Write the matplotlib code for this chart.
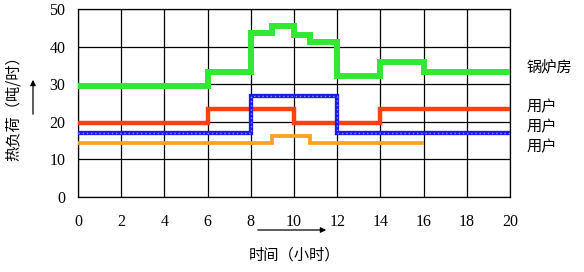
import matplotlib
matplotlib.use("Agg")
import matplotlib.pyplot as plt

# step edges (hours) and load values (t/h)
boiler_t = [0, 6, 8, 9, 10, 10.75, 12, 14, 16, 20]
boiler_v = [29.5, 33.2, 43.7, 45.6, 43.1, 41.2, 32.2, 35.9, 33.3]

user_red_t = [0, 6, 10, 14, 20]
user_red_v = [19.6, 23.3, 19.6, 23.3]

user_blue_t = [0, 8, 12, 20]
user_blue_v = [17.1, 26.9, 17.1]

user_orange_t = [0, 9, 10.75, 16]
user_orange_v = [14.3, 16.2, 14.3]

x_ticks = list(range(0, 21, 2))
y_ticks = list(range(0, 51, 10))

right_labels = ["锅炉房", "用户", "用户", "用户"]

cjk = ["Noto Sans CJK SC", "DejaVu Sans"]
serif = "Liberation Serif"

fig = plt.figure(figsize=(5.84, 2.72), dpi=100)
ax = fig.add_axes([78 / 584, 1 - 197 / 272, 432 / 584, 188 / 272])

ax.stairs(boiler_v, boiler_t, baseline=None, color="#33e833", lw=4.3, zorder=3)
ax.stairs(user_red_v, user_red_t, baseline=None, color="#ff4010", lw=3.2, zorder=3)
ax.stairs(user_blue_v, user_blue_t, baseline=None, color="#1a1aee", lw=3.1, zorder=4)
ax.stairs(user_blue_v, user_blue_t, baseline=None, color="#8c8cff", lw=1.0,
          linestyle=(0, (1, 2)), zorder=5)
ax.stairs(user_orange_v, user_orange_t, baseline=None, color="#ffa21e", lw=2.7, zorder=3)

ax.set_xlim(0, 20)
ax.set_ylim(0, 50)
ax.set_xticks(x_ticks)
ax.set_yticks(y_ticks)
ax.grid(True, color="black", lw=0.9)
ax.tick_params(axis="x", length=0, pad=12, labelsize=11.5)
ax.tick_params(axis="y", length=0, pad=9, labelsize=11.5)
for lab in ax.get_xticklabels() + ax.get_yticklabels():
    lab.set_family(serif)
for sp in ax.spines.values():
    sp.set_linewidth(0.9)

# axis titles with arrows
fig.text(13 / 584, 1 - 105 / 272, "热负荷（吨/时）", rotation=90, ha="center",
         va="center", family=cjk, fontsize=11)
fig.text(295 / 584, 1 - 255 / 272, "时间（小时）", ha="center", va="center",
         family=cjk, fontsize=11)
fig.add_artist(matplotlib.patches.FancyArrowPatch(
    (33 / 584, 1 - 117 / 272), (33 / 584, 1 - 77 / 272),
    transform=fig.transFigure, arrowstyle="-|>", mutation_scale=8, lw=0.9, color="black"))
fig.add_artist(matplotlib.patches.FancyArrowPatch(
    (255 / 584, 1 - 230 / 272), (329 / 584, 1 - 230 / 272),
    transform=fig.transFigure, arrowstyle="-|>", mutation_scale=8, lw=0.9, color="black"))

for label, ypix in zip(right_labels, [67, 107, 127, 147]):
    fig.text(527 / 584, 1 - ypix / 272, label, ha="left", va="center",
             family=cjk, fontsize=11)

fig.savefig("out.png", dpi=100)
